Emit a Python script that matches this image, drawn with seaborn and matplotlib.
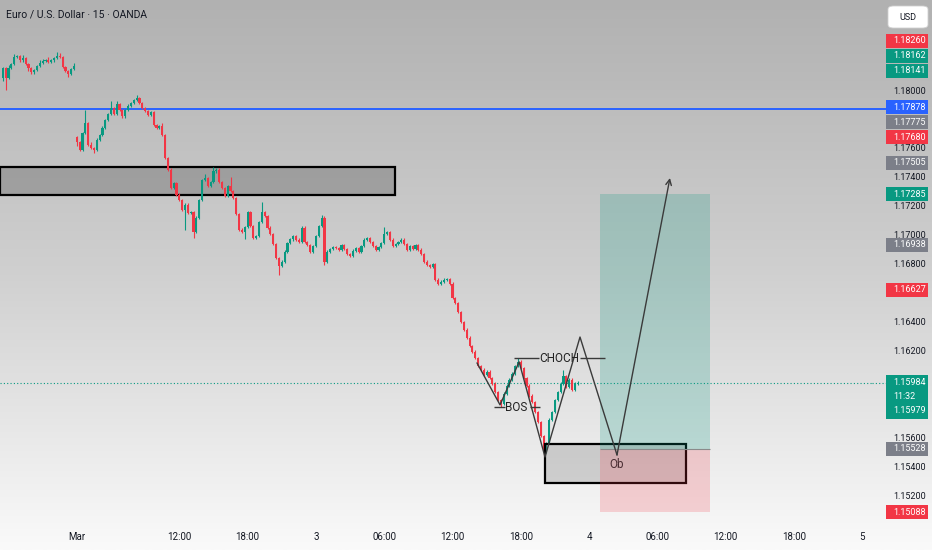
import numpy as np
import pandas as pd
import matplotlib
matplotlib.use("Agg")
import matplotlib.pyplot as plt
import seaborn as sns
from matplotlib.patches import Rectangle, FancyBboxPatch
from matplotlib.colors import LinearSegmentedColormap

# ---- price data (EURUSD 15m) ----
# Friday session, open then closes
fri_open = 1.18090
fri_close = [1.18159, 1.18090, 1.18159, 1.18187, 1.18235, 1.18242, 1.18214, 1.18228, 1.18187, 1.18159,
             1.18131, 1.18145, 1.18173, 1.18194, 1.18208, 1.18214, 1.18201, 1.18214, 1.18228, 1.18242,
             1.18235, 1.18166, 1.18138, 1.18118, 1.18152, 1.18173]
fri_wick_up = [1, 1, 2, 1, 2, 1, 1, 2, 1, 1, 1, 1, 1, 2, 1, 1, 2, 1, 1, 3, 2, 1, 1, 1, 1, 2]
fri_wick_dn = [2, 8, 1, 1, 1, 1, 1, 1, 1, 2, 1, 1, 1, 1, 1, 1, 1, 1, 1, 1, 1, 1, 1, 2, 1, 1]

# week session after the gap
mon_open = 1.17680
mon_close = [1.17648, 1.17593, 1.17710, 1.17779, 1.17627, 1.17606, 1.17593, 1.17662, 1.17696, 1.17745,
             1.17800, 1.17841, 1.17883, 1.17841, 1.17910, 1.17869, 1.17827, 1.17869, 1.17897, 1.17917,
             1.17938, 1.17952, 1.17917, 1.17883, 1.17862, 1.17834, 1.17855, 1.17765, 1.17745, 1.17758,
             1.17696, 1.17537, 1.17455, 1.17330, 1.17364, 1.17282, 1.17247, 1.17178, 1.17213, 1.17157,
             1.17164, 1.17026, 1.17123, 1.17247, 1.17385, 1.17399, 1.17344, 1.17371, 1.17444, 1.17455,
             1.17371, 1.17330, 1.17275, 1.17344, 1.17309, 1.17261, 1.17150, 1.17040, 1.17026, 1.17060,
             1.17164, 1.17067, 1.16984, 1.16998, 1.17095, 1.17164, 1.17136, 1.17054, 1.17012, 1.16943,
             1.16846, 1.16791, 1.16819, 1.16888, 1.16950, 1.16977, 1.16998, 1.16971, 1.16957, 1.17054,
             1.16957, 1.16936, 1.16888, 1.16929, 1.16998, 1.17067, 1.17123, 1.16819, 1.16888, 1.16908,
             1.16922, 1.16915, 1.16902, 1.16936, 1.16908, 1.16874, 1.16860, 1.16895, 1.16915, 1.16888,
             1.16929, 1.16971, 1.16984, 1.16957, 1.16929, 1.16902, 1.16922, 1.16950, 1.17012, 1.17026,
             1.16971, 1.16929, 1.16943, 1.16957, 1.16971, 1.16943, 1.16902, 1.16929, 1.16908, 1.16936,
             1.16902, 1.16874, 1.16819, 1.16798, 1.16784, 1.16805, 1.16695, 1.16667, 1.16681, 1.16695,
             1.16701, 1.16667, 1.16570, 1.16535, 1.16473, 1.16404, 1.16349, 1.16294, 1.16238, 1.16197,
             1.16155, 1.16100, 1.16073, 1.16038, 1.16059, 1.16017, 1.15976, 1.15920, 1.15865, 1.15837,
             1.15907, 1.15962, 1.16004, 1.16045, 1.16100, 1.16128, 1.16086, 1.16017, 1.15962, 1.15893,
             1.15851, 1.15782, 1.15713, 1.15616, 1.15506, 1.15568, 1.15727, 1.15782, 1.15865, 1.15920,
             1.15976, 1.16031, 1.15955, 1.16004, 1.15935, 1.15976, 1.15984]
mon_wick_up = [1, 1, 1, 9, 1, 2, 1, 1, 1, 1,
               1, 1, 5, 1, 2, 1, 1, 1, 1, 1,
               1, 2, 1, 1, 1, 1, 1, 1, 1, 1,
               2, 1, 1, 1, 1, 1, 1, 1, 1, 1,
               1, 1, 1, 1, 1, 3, 1, 1, 3, 1,
               1, 1, 1, 1, 6, 1, 1, 1, 1, 1,
               1, 1, 1, 1, 1, 7, 1, 1, 1, 1,
               1, 1, 1, 1, 1, 1, 1, 1, 1, 1,
               1, 1, 1, 1, 1, 1, 2, 1, 1, 1,
               1, 1, 1, 1, 1, 1, 1, 1, 1, 1,
               1, 1, 1, 1, 1, 1, 1, 1, 5, 1,
               1, 1, 1, 1, 1, 1, 1, 1, 1, 1,
               1, 1, 1, 1, 1, 1, 1, 1, 1, 1,
               1, 1, 1, 1, 1, 1, 1, 1, 1, 1,
               1, 1, 1, 1, 1, 1, 1, 1, 1, 1,
               1, 1, 1, 1, 1, 3, 1, 1, 1, 1,
               1, 1, 1, 1, 1, 1, 1, 1, 1, 1,
               1, 4, 1, 1, 1, 1, 1]
mon_wick_dn = [3, 1, 1, 1, 1, 1, 2, 1, 1, 1,
               1, 1, 1, 1, 1, 1, 1, 1, 1, 1,
               1, 1, 1, 1, 1, 1, 1, 1, 1, 1,
               1, 1, 1, 1, 1, 1, 1, 1, 14, 1,
               1, 4, 1, 1, 1, 1, 1, 1, 1, 1,
               1, 1, 1, 1, 1, 1, 1, 1, 1, 5,
               1, 1, 1, 1, 1, 1, 1, 1, 1, 1,
               1, 6, 1, 1, 1, 1, 1, 1, 1, 1,
               1, 1, 1, 1, 1, 1, 1, 2, 1, 1,
               1, 1, 1, 1, 1, 1, 1, 1, 1, 1,
               1, 1, 1, 1, 1, 1, 1, 1, 1, 1,
               1, 1, 1, 1, 1, 1, 1, 1, 1, 1,
               1, 1, 1, 1, 1, 1, 1, 1, 1, 1,
               1, 1, 1, 1, 1, 1, 1, 1, 1, 1,
               1, 1, 1, 1, 1, 1, 1, 1, 1, 2,
               1, 1, 1, 1, 1, 1, 1, 1, 1, 1,
               1, 1, 1, 1, 3, 1, 1, 1, 1, 1,
               1, 1, 1, 1, 1, 1, 1]

time_tick_bars = [26, 62, 86, 110, 134, 158, 182, 206, 230, 254, 278, 302]
time_tick_labels = ["Mar", "12:00", "18:00", "3", "06:00", "12:00", "18:00", "4", "06:00", "12:00", "18:00", "5"]
price_ticks = [1.152, 1.154, 1.156, 1.158, 1.160, 1.162, 1.164, 1.166, 1.168, 1.170,
               1.172, 1.174, 1.176, 1.178, 1.180, 1.182, 1.184]

# ---- drawings ----
hline_price = 1.17878
supply_zone = (-1.0, 137.8, 1.17280, 1.17475)      # bar0, bar1, low, high
ob_zone = (190.5, 240.1, 1.15292, 1.15561)
long_bars = (209.8, 248.5)
long_entry, long_target, long_stop = 1.15528, 1.17285, 1.15088
zz_bar = [166.6, 174.7, 181.4, 190.5, 202.8, 215.8, 234.4]
zz_price = [1.16121, 1.15831, 1.16128, 1.15471, 1.16300, 1.15485, 1.17399]
bos_price, bos_segs, bos_text_bar = 1.15815, [(172.6, 176.5), (185.2, 188.8)], 180.5
choch_price, choch_segs, choch_text_bar = 1.16154, [(179.6, 188.4), (202.8, 211.6)], 195.4
ob_label = (215.5, 1.15416)

# price-scale tags
tag_prices = [1.15088, 1.15528, 1.16627, 1.16938, 1.17285, 1.17505, 1.17680, 1.17775, 1.17878,
              1.18141, 1.18162, 1.18260]
tag_kinds = ["red", "gray", "red", "gray", "green", "gray", "red", "gray", "blue",
             "green", "green", "red"]
last_price, countdown, last_bid = 1.15984, "11:32", 1.15979

GREEN, RED, BLUE, GRAY = "#089981", "#f23645", "#2962ff", "#7c7f89"
KIND_COLOR = {"red": RED, "green": GREEN, "blue": BLUE, "gray": GRAY}
TXT = "#131722"
PIP = 0.0001
PX = 0.0000691   # price per pixel on this scale

sns.set_theme(style="white")
plt.rcParams['font.family'] = ['Roboto', 'DejaVu Sans']

# ---- assemble candles ----
closes = fri_close + mon_close
opens = [fri_open] + fri_close[:-1] + [mon_open] + mon_close[:-1]
df = pd.DataFrame({'bar': np.arange(len(closes)), 'open': opens, 'close': closes})
df['top'] = df[['open', 'close']].max(axis=1)
df['bot'] = df[['open', 'close']].min(axis=1)
df['high'] = df['top'] + np.array(fri_wick_up + mon_wick_up) * PIP
df['low'] = df['bot'] - np.array(fri_wick_dn + mon_wick_dn) * PIP
colors = np.where(df['close'] >= df['open'], GREEN, RED)

fig = plt.figure(figsize=(9.32, 5.5), dpi=100)

# gradient background
bg = fig.add_axes([0, 0, 1, 1], zorder=0)
cmap = LinearSegmentedColormap.from_list('bg', ['#b1b1b1', '#d0d0d0', '#fafafa'])
bg.imshow(np.linspace(0, 1, 256).reshape(-1, 1), aspect='auto', cmap=cmap,
          extent=[0, 1, 0, 1], origin='upper')
bg.axis('off')

ax = fig.add_axes([0, 25 / 550, 872 / 932, 525 / 550], zorder=1)
ax.patch.set_alpha(0)
ylim = (1.15001, 1.18629)
ax.set_xlim(-1, 305.4)
ax.set_ylim(*ylim)
for s in ax.spines.values():
    s.set_visible(False)
ax.set_yticks([])
ax.set_xticks(time_tick_bars)
ax.set_xticklabels(time_tick_labels)
ax.tick_params(axis='x', length=0, pad=5, labelsize=7, labelcolor=TXT)

# zones
x0, x1, lo, hi = supply_zone
ax.add_patch(Rectangle((x0, lo), x1 - x0, hi - lo, facecolor=(0.5, 0.5, 0.5, 0.55),
                       edgecolor='black', lw=1.6, zorder=2, clip_on=False))
x0, x1, lo, hi = ob_zone
ax.add_patch(Rectangle((x0, lo), x1 - x0, hi - lo, facecolor=(0.5, 0.5, 0.5, 0.3),
                       edgecolor='black', lw=1.6, zorder=5))
lx0, lx1 = long_bars
ax.add_patch(Rectangle((lx0, long_entry), lx1 - lx0, long_target - long_entry,
                       facecolor=GREEN, alpha=0.22, lw=0, zorder=6))
ax.add_patch(Rectangle((lx0, long_stop), lx1 - lx0, long_entry - long_stop,
                       facecolor=RED, alpha=0.2, lw=0, zorder=6))
ax.hlines(long_entry, lx0, lx1, color='#8a8a8a', lw=0.8, zorder=6)

# horizontal price lines
ax.axhline(hline_price, color=BLUE, lw=1.4, zorder=3)
ax.axhline(last_price, color=GREEN, lw=0.8, ls=(0, (1, 2)), zorder=3)

# candles
ax.vlines(df['bar'], df['low'], df['high'], colors=colors, lw=0.8, zorder=4)
ax.bar(df['bar'], (df['top'] - df['bot']).clip(lower=0.00002), bottom=df['bot'],
       width=0.75, color=colors, linewidth=0, zorder=4)

# structure drawings
line_c = '#3a3a3a'
sns.lineplot(x=zz_bar[:-1], y=zz_price[:-1], sort=False, color=line_c, lw=1.0, ax=ax, zorder=7)
ax.annotate('', xy=(zz_bar[-1], zz_price[-1]), xytext=(zz_bar[-2], zz_price[-2]),
            arrowprops=dict(arrowstyle='->', color=line_c, lw=1.0, shrinkA=0, shrinkB=0,
                            mutation_scale=10), zorder=7)
for a, b in bos_segs:
    ax.hlines(bos_price, a, b, color=line_c, lw=1.0, zorder=7)
for a, b in choch_segs:
    ax.hlines(choch_price, a, b, color=line_c, lw=1.0, zorder=7)
ax.text(bos_text_bar, bos_price, "BOS", ha='center', va='center', fontsize=8.5, color='#222', zorder=8)
ax.text(choch_text_bar, choch_price, "CHOCH", ha='center', va='center', fontsize=8.5, color='#222', zorder=8)
ax.text(ob_label[0], ob_label[1], "Ob", ha='center', va='center', fontsize=8.5, color='#4a2e33', zorder=8)

ax.text(6 / 872, 1 - 15 / 525, "Euro / U.S. Dollar · 15 · OANDA", transform=ax.transAxes,
        ha='left', va='center', fontsize=7.5, color=TXT, zorder=9)

# ---- price scale ----
axp = fig.add_axes([872 / 932, 25 / 550, 60 / 932, 525 / 550], zorder=2)
axp.patch.set_alpha(0)
axp.set_ylim(*ylim)
axp.set_xlim(0, 1)
axp.axis('off')
tr = axp.get_yaxis_transform()
FS = 6.5

axp.hlines([hline_price], 0, 0.23, color=BLUE, lw=1.4)
axp.hlines([last_price], 0, 0.23, color=GREEN, lw=0.8, ls=(0, (1, 2)))

tag_h = 15 * PX
cur_top, cur_bot = last_price + 8 * PX, last_price - 36 * PX

# stack tags upward so they do not overlap
shown = []
prev = None
for p, kind in sorted(zip(tag_prices, tag_kinds)):
    d = p
    if prev is not None:
        d = max(d, prev + tag_h)
    if p > last_price:
        d = max(d, cur_top + tag_h / 2)
    elif d + tag_h / 2 > cur_bot:
        d = cur_bot - tag_h / 2
    shown.append((p, kind, d))
    prev = d

# plain scale labels, dropped where a tag covers them
covered = [d for _, _, d in shown] + [last_price - k * 14 * PX for k in range(3)]
for p in price_ticks:
    if min(abs(p - c) for c in covered) < 8 * PX:
        continue
    axp.text(0.35, p, f"{p:.5f}", transform=tr, ha='left', va='center', fontsize=FS, color=TXT)

axp.add_patch(Rectangle((0.233, cur_bot), 0.70, cur_top - cur_bot, transform=tr,
                        facecolor=GREEN, lw=0, clip_on=False, zorder=3))
for k, txt in enumerate([f"{last_price:.5f}", countdown, f"{last_bid:.5f}"]):
    axp.text(0.35, last_price - k * 14 * PX, txt, transform=tr, ha='left', va='center',
             fontsize=FS, color='white', zorder=4)

for p, kind, d in shown:
    axp.add_patch(Rectangle((0.233, d - tag_h / 2 + 0.5 * PX), 0.70, tag_h - PX, transform=tr,
                            facecolor=KIND_COLOR[kind], lw=0, clip_on=False, zorder=3))
    axp.text(0.35, d, f"{p:.5f}", transform=tr, ha='left', va='center', fontsize=FS,
             color='white', zorder=4)

# currency box
fig.patches.append(FancyBboxPatch((888 / 932, 1 - 28 / 550), 40 / 932, 22 / 550,
                                  boxstyle="round,pad=0,rounding_size=0.006",
                                  transform=fig.transFigure, facecolor='white',
                                  edgecolor='#d0d0d0', lw=0.6))
fig.text(908 / 932, 1 - 17 / 550, "USD", ha='center', va='center', fontsize=6.5, color=TXT)

fig.savefig("out.png", dpi=100)
